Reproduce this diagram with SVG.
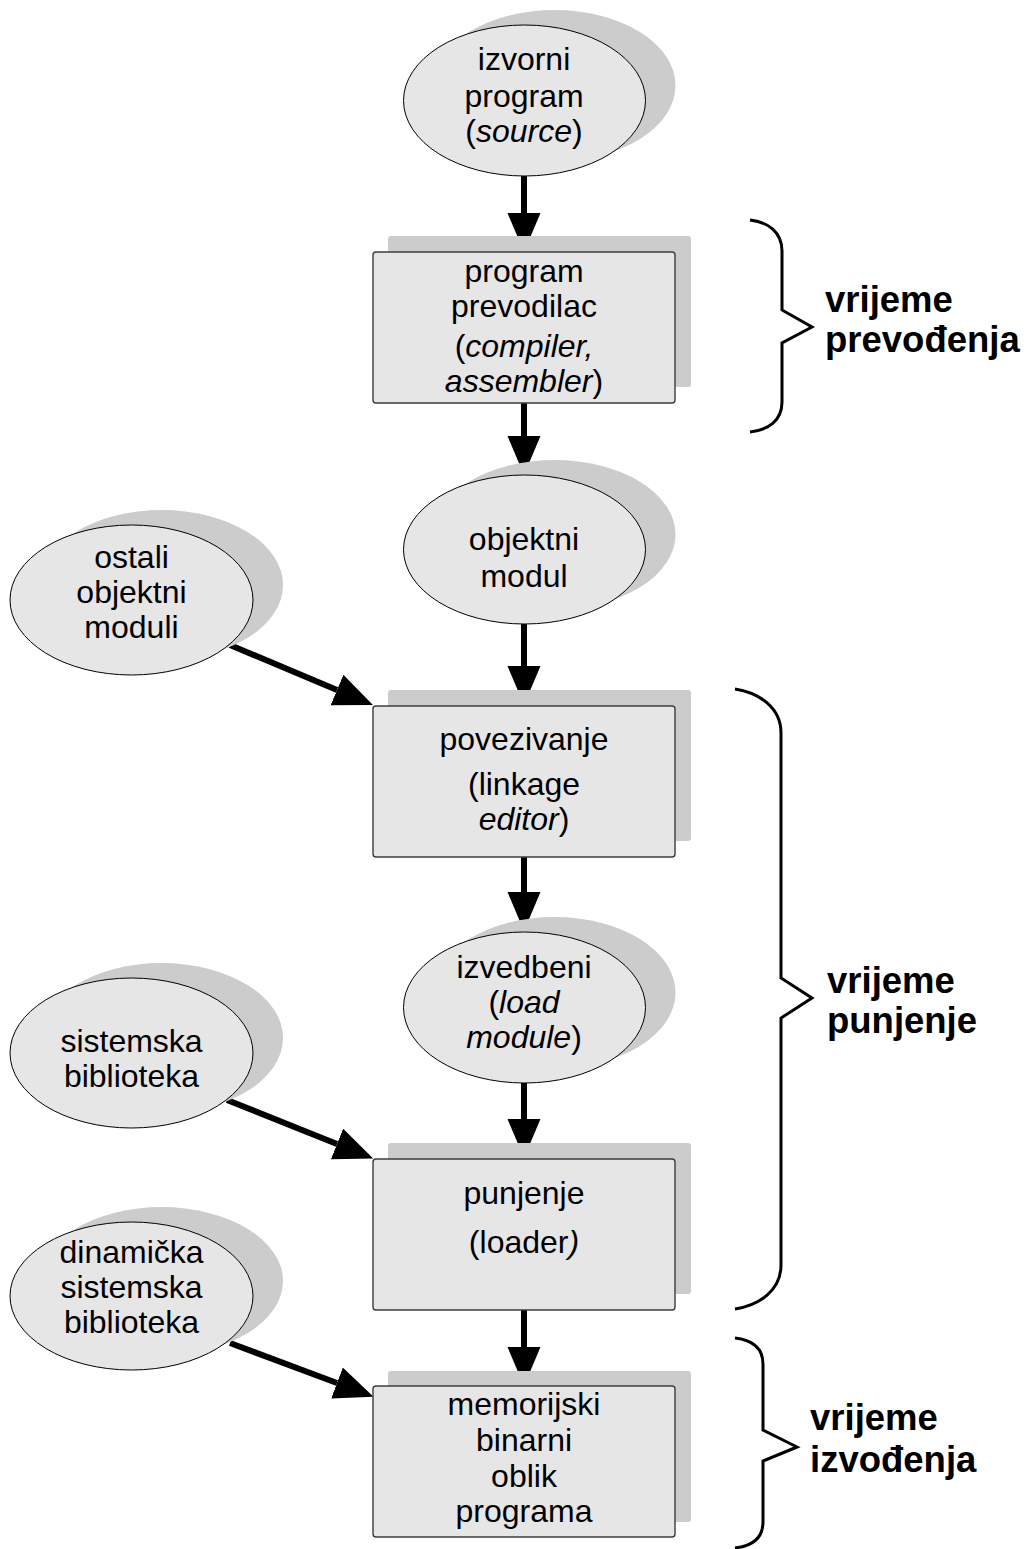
<svg xmlns="http://www.w3.org/2000/svg" width="1030" height="1549" viewBox="0 0 1030 1549">
  <style>
    .shadow { fill: #cccccc; }
    .oval { fill: #e6e6e6; stroke: #000000; stroke-width: 1; }
    .box { fill: #e6e6e6; stroke: #3c3c3c; stroke-width: 1.4; }
    .lbl { font-family: "Liberation Sans", Arial, sans-serif; font-size: 32px; fill: #000000; text-anchor: middle; }
    .phase { font-family: "Liberation Sans", Arial, sans-serif; font-size: 36.5px; font-weight: bold; fill: #000000; }
    .link { stroke: #000000; stroke-width: 6; fill: none; marker-end: url(#head); }
    .brace { stroke: #000000; stroke-width: 3; fill: none; stroke-linejoin: miter; }
  </style>
  <defs>
    <marker id="head" markerUnits="userSpaceOnUse" markerWidth="40" markerHeight="34" refX="0" refY="16.5" orient="auto">
      <path d="M0,0 L39,16.5 L0,33 z" fill="#000000"/>
    </marker>
  </defs>

  <rect width="1030" height="1549" fill="#ffffff"/>

  <!-- connectors -->
  <g id="connectors">
    <line class="link" x1="524" y1="176" x2="524" y2="213"/>
    <line class="link" x1="524" y1="403" x2="524" y2="436"/>
    <line class="link" x1="524" y1="624" x2="524" y2="666"/>
    <line class="link" x1="524" y1="857" x2="524" y2="892"/>
    <line class="link" x1="524" y1="1083" x2="524" y2="1119"/>
    <line class="link" x1="524" y1="1310" x2="524" y2="1347"/>
    <line class="link" x1="230" y1="645" x2="337" y2="690"/>
    <line class="link" x1="227" y1="1100" x2="337" y2="1144"/>
    <line class="link" x1="230" y1="1343" x2="337" y2="1383"/>
  </g>

  <!-- source program -->
  <g id="node-izvorni">
    <ellipse class="shadow" cx="554.5" cy="85.5" rx="121" ry="75.5"/>
    <ellipse class="oval" cx="524.5" cy="100.5" rx="121" ry="75.5"/>
    <text class="lbl" x="524" y="70">izvorni</text>
    <text class="lbl" x="524" y="107">program</text>
    <text class="lbl" x="524" y="142">(<tspan font-style="italic">source</tspan>)</text>
  </g>

  <!-- compiler -->
  <g id="node-prevodilac">
    <rect class="shadow" x="388" y="236" width="303" height="151" rx="3"/>
    <rect class="box" x="373" y="252" width="302" height="151" rx="3"/>
    <text class="lbl" x="524" y="282">program</text>
    <text class="lbl" x="524" y="317">prevodilac</text>
    <text class="lbl" x="524" y="357">(<tspan font-style="italic">compiler,</tspan></text>
    <text class="lbl" x="524" y="392"><tspan font-style="italic">assembler</tspan>)</text>
  </g>

  <!-- object module -->
  <g id="node-objektni">
    <ellipse class="shadow" cx="554.5" cy="534.5" rx="121" ry="74.5"/>
    <ellipse class="oval" cx="524.5" cy="549.5" rx="121" ry="74.5"/>
    <text class="lbl" x="524" y="550">objektni</text>
    <text class="lbl" x="524" y="587">modul</text>
  </g>

  <!-- other object modules -->
  <g id="node-ostali">
    <ellipse class="shadow" cx="161.5" cy="585" rx="121.5" ry="75"/>
    <ellipse class="oval" cx="131.5" cy="600" rx="121.5" ry="75"/>
    <text class="lbl" x="131.5" y="568">ostali</text>
    <text class="lbl" x="131.5" y="603">objektni</text>
    <text class="lbl" x="131.5" y="638">moduli</text>
  </g>

  <!-- linkage editor -->
  <g id="node-povezivanje">
    <rect class="shadow" x="388" y="690" width="303" height="151" rx="3"/>
    <rect class="box" x="373" y="706" width="302" height="151" rx="3"/>
    <text class="lbl" x="524" y="750">povezivanje</text>
    <text class="lbl" x="524" y="795">(linkage</text>
    <text class="lbl" x="524" y="830"><tspan font-style="italic">editor</tspan>)</text>
  </g>

  <!-- load module -->
  <g id="node-izvedbeni">
    <ellipse class="shadow" cx="554.5" cy="992.5" rx="121" ry="75.5"/>
    <ellipse class="oval" cx="524.5" cy="1007.5" rx="121" ry="75.5"/>
    <text class="lbl" x="524" y="978">izvedbeni</text>
    <text class="lbl" x="524" y="1013">(<tspan font-style="italic">load</tspan></text>
    <text class="lbl" x="524" y="1048"><tspan font-style="italic">module</tspan>)</text>
  </g>

  <!-- system library -->
  <g id="node-sistemska">
    <ellipse class="shadow" cx="161.5" cy="1038" rx="121.5" ry="75"/>
    <ellipse class="oval" cx="131.5" cy="1053" rx="121.5" ry="75"/>
    <text class="lbl" x="131.5" y="1052">sistemska</text>
    <text class="lbl" x="131.5" y="1087">biblioteka</text>
  </g>

  <!-- loader -->
  <g id="node-punjenje">
    <rect class="shadow" x="388" y="1143" width="303" height="151" rx="3"/>
    <rect class="box" x="373" y="1159" width="302" height="151" rx="3"/>
    <text class="lbl" x="524" y="1204">punjenje</text>
    <text class="lbl" x="524" y="1253">(loader<tspan font-style="italic">)</tspan></text>
  </g>

  <!-- dynamic system library -->
  <g id="node-dinamicka">
    <ellipse class="shadow" cx="161.5" cy="1281" rx="121.5" ry="74"/>
    <ellipse class="oval" cx="131.5" cy="1296" rx="121.5" ry="74"/>
    <text class="lbl" x="131.5" y="1263">dinamička</text>
    <text class="lbl" x="131.5" y="1298">sistemska</text>
    <text class="lbl" x="131.5" y="1333">biblioteka</text>
  </g>

  <!-- in-memory binary image -->
  <g id="node-memorijski">
    <rect class="shadow" x="388" y="1371" width="303" height="151" rx="3"/>
    <rect class="box" x="373" y="1386" width="302" height="151" rx="3"/>
    <text class="lbl" x="524" y="1415">memorijski</text>
    <text class="lbl" x="524" y="1451">binarni</text>
    <text class="lbl" x="524" y="1487">oblik</text>
    <text class="lbl" x="524" y="1522">programa</text>
  </g>

  <!-- phase braces -->
  <g id="phase-prevodenje">
    <path class="brace" d="M750,220 C768,222 782,232 782,251 L782,310 L812,327 L782,343 L782,402 C782,421 768,430 750,432"/>
    <text class="phase" x="825" y="312">vrijeme</text>
    <text class="phase" x="825" y="352">prevođenja</text>
  </g>

  <g id="phase-punjenje">
    <path class="brace" d="M735,689 C760,693 781,708 781,733 L781,978 L812,998 L781,1018 L781,1265 C781,1290 760,1305 735,1309"/>
    <text class="phase" x="827" y="993">vrijeme</text>
    <text class="phase" x="827" y="1033">punjenje</text>
  </g>

  <g id="phase-izvodenje">
    <path class="brace" d="M735,1338 C752,1340 763,1348 763,1364 L763,1430 L797,1447 L763,1461 L763,1522 C763,1538 752,1546 735,1548"/>
    <text class="phase" x="810" y="1430">vrijeme</text>
    <text class="phase" x="810" y="1472">izvođenja</text>
  </g>
</svg>
